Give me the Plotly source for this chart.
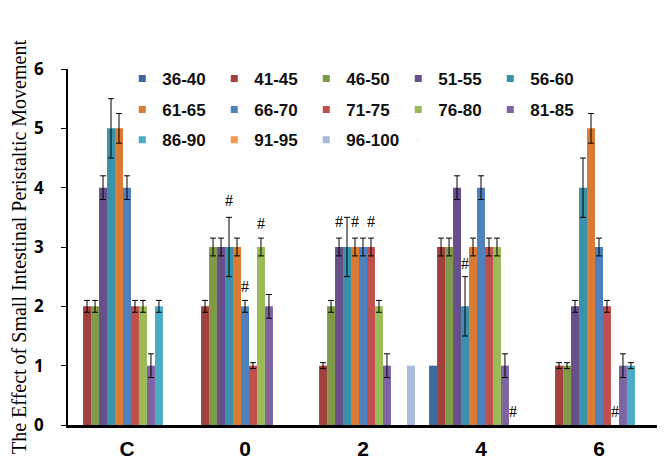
import plotly.graph_objects as go

categories = ["C", "0", "2", "4", "6"]
series_names = ["36-40", "41-45", "46-50", "51-55", "56-60", "61-65", "66-70",
                "71-75", "76-80", "81-85", "86-90", "91-95", "96-100"]

v_36_40 = [None, None, None, 1, None]
v_41_45 = [2, 2, 1, 3, 1]
v_46_50 = [2, 3, 2, 3, 1]
v_51_55 = [4, 3, 3, 4, 2]
v_56_60 = [5, 3, 3, 2, 4]
v_61_65 = [5, 3, 3, 3, 5]
v_66_70 = [4, 2, 3, 4, 3]
v_71_75 = [2, 1, 3, 3, 2]
v_76_80 = [2, 3, 2, 3, None]
v_81_85 = [1, 2, 1, 1, 1]
v_86_90 = [2, None, None, None, 1]
v_91_95 = [None, None, None, None, None]
v_96_100 = [None, None, 1, None, None]

e_36_40 = [None, None, None, None, None]
e_41_45 = [0.1, 0.1, 0.05, 0.15, 0.05]
e_46_50 = [0.1, 0.15, 0.1, 0.15, 0.05]
e_51_55 = [0.2, 0.15, 0.15, 0.2, 0.1]
e_56_60 = [0.5, 0.5, 0.5, 0.5, 0.5]
e_61_65 = [0.25, 0.15, 0.15, 0.15, 0.25]
e_66_70 = [0.2, 0.1, 0.15, 0.2, 0.15]
e_71_75 = [0.1, 0.05, 0.15, 0.15, 0.1]
e_76_80 = [0.1, 0.15, 0.1, 0.15, None]
e_81_85 = [0.2, 0.2, 0.2, 0.2, 0.2]
e_86_90 = [0.1, None, None, None, 0.05]
e_91_95 = [None, None, None, None, None]
e_96_100 = [None, None, None, None, None]

values = [v_36_40, v_41_45, v_46_50, v_51_55, v_56_60, v_61_65, v_66_70,
          v_71_75, v_76_80, v_81_85, v_86_90, v_91_95, v_96_100]
errors = [e_36_40, e_41_45, e_46_50, e_51_55, e_56_60, e_61_65, e_66_70,
          e_71_75, e_76_80, e_81_85, e_86_90, e_91_95, e_96_100]

colors = ["#3D6A9B", "#A0413E", "#7F9A48", "#67508A", "#3A92AA", "#DA7B33",
          "#4F81BD", "#C0504D", "#9BBB59", "#8064A2", "#4BACC6", "#F79646",
          "#A8B9D9"]

# significance marks: (category index, series index, y value)
mark_cat = [1, 1, 1, 2, 2, 2, 3, 3, 4]
mark_series = [4, 6, 8, 3, 5, 7, 4, 10, 8]
mark_y = [3.78, 2.33, 3.4, 3.43, 3.43, 3.43, 2.73, 0.22, 0.22]

BARGAP = 0.12
N = len(series_names)

fig = go.Figure()
for i, name in enumerate(series_names):
    has_err = any(e is not None for e in errors[i])
    fig.add_trace(go.Bar(
        x=categories, y=values[i], name=name,
        marker=dict(color=colors[i], line=dict(width=0)),
        error_y=dict(type="data", array=errors[i], visible=has_err,
                     color="black", thickness=1, width=3),
        showlegend=False,
    ))

legend_font = dict(family="Liberation Sans, Arial", size=17,
                   color="#111111", weight="bold")
rows = [(0, 5, "legend"), (5, 10, "legend2"), (10, 13, "legend3")]
for a, b, lg in rows:
    for i in range(a, b):
        fig.add_trace(go.Scatter(
            x=[None], y=[None], mode="markers", name=series_names[i],
            marker=dict(symbol="square", size=7, color=colors[i]),
            legend=lg, showlegend=True,
        ))
# invisible spacer entry so the last legend row is not clipped
fig.add_trace(go.Scatter(x=[None], y=[None], mode="markers", name=" ",
                         marker=dict(size=1, opacity=0), legend="legend3",
                         showlegend=True, hoverinfo="skip"))

bw = (1 - BARGAP) / N
for c, s, yv in zip(mark_cat, mark_series, mark_y):
    xpos = c - (1 - BARGAP) / 2 + (s + 0.5) * bw
    fig.add_annotation(x=xpos, y=yv, xref="x", yref="y", text="#",
                       showarrow=False,
                       font=dict(family="Liberation Serif", size=16, color="black"))

leg_common = dict(orientation="h", entrywidth=47, entrywidthmode="pixels",
                  bgcolor="rgba(0,0,0,0)", font=legend_font,
                  xanchor="left", yanchor="middle", itemwidth=30,
                  tracegroupgap=0)

LX = 0.092
fig.update_layout(
    width=657, height=467,
    margin=dict(l=60, r=7, t=61, b=50, autoexpand=False),
    paper_bgcolor="white", plot_bgcolor="white",
    barmode="group", bargap=BARGAP, bargroupgap=0,
    legend=dict(x=LX, y=0.972, **leg_common),
    legend2=dict(x=LX, y=0.885, **leg_common),
    legend3=dict(x=LX, y=0.80, **leg_common),
    xaxis=dict(
        type="category", showline=True, linecolor="black", linewidth=2.5,
        ticks="", showgrid=False, automargin=False,
        tickfont=dict(family="Liberation Sans, Arial",
                      size=21, color="black", weight="bold"),
        ticklabelstandoff=3,
    ),
    yaxis=dict(
        range=[0, 6], tickvals=[0, 1, 2, 3, 4, 5, 6], showline=True,
        linecolor="black", linewidth=1.5, ticks="outside", ticklen=5,
        tickcolor="black", showgrid=False, zeroline=False, automargin=False,
        tickfont=dict(family="Noto Sans, DejaVu Sans", size=17, color="black",
                      weight="bold"),
        ticklabelstandoff=14,
        title=dict(text="The Effect of Small Intestinal Peristaltic Movement",
                   font=dict(family="Liberation Serif, Times New Roman", size=20,
                             color="black"),
                   standoff=15),
    ),
)

fig.write_html("out.html")
